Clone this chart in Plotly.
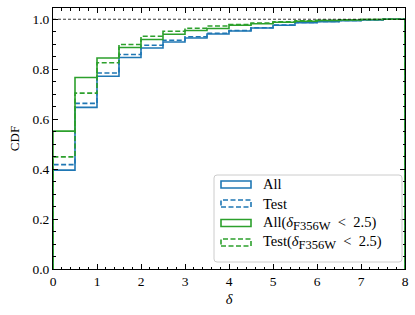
import plotly.graph_objects as go

# ---- data ----
bin_edges = [0.0, 0.5, 1.0, 1.5, 2.0, 2.5, 3.0, 3.5, 4.0, 4.5, 5.0, 5.5, 6.0, 6.5, 7.0, 7.5, 8.0]
cdf_all = [0.396, 0.647, 0.772, 0.847, 0.885, 0.909, 0.925, 0.941, 0.953, 0.965, 0.976, 0.986, 0.990, 0.994, 0.997, 1.0]
cdf_test = [0.418, 0.663, 0.785, 0.859, 0.896, 0.916, 0.930, 0.944, 0.955, 0.966, 0.977, 0.987, 0.991, 0.995, 0.998, 1.0]
cdf_all_sub = [0.552, 0.767, 0.845, 0.887, 0.919, 0.940, 0.955, 0.963, 0.976, 0.982, 0.988, 0.992, 0.995, 0.997, 0.999, 1.0]
cdf_test_sub = [0.449, 0.704, 0.826, 0.899, 0.932, 0.952, 0.964, 0.973, 0.979, 0.985, 0.990, 0.994, 0.996, 0.998, 0.999, 1.0]
SUB = '<sub><span style="font-size:12.5px">F356W</span></sub>'
series_names = ["All", "Test",
                "All(<i>δ</i>" + SUB + "&nbsp;&nbsp;&lt;&nbsp;&nbsp;2.5)",
                "Test(<i>δ</i>" + SUB + "&nbsp;&nbsp;&lt;&nbsp;&nbsp;2.5)"]
x_ticks = [0, 1, 2, 3, 4, 5, 6, 7, 8]
y_ticks = [0.0, 0.2, 0.4, 0.6, 0.8, 1.0]

BLUE = "#1f77b4"
GREEN = "#2ca02c"
FONT = "Liberation Serif"
FS = 13.5
LFS = 14.5

series = [
    (cdf_all, BLUE, "solid"),
    (cdf_test, BLUE, "5px,2.5px"),
    (cdf_all_sub, GREEN, "solid"),
    (cdf_test_sub, GREEN, "5px,2.5px"),
]

fig = go.Figure()
for vals, col, dash in series:
    xs = [bin_edges[0]] + bin_edges[:-1] + [bin_edges[-1], bin_edges[-1]]
    ys = [0.0] + vals + [vals[-1], 0.0]
    fig.add_trace(go.Scatter(x=xs, y=ys, mode="lines", line_shape="hv",
                             line=dict(color=col, width=1.6, dash=dash),
                             showlegend=False, hoverinfo="skip", cliponaxis=True))

# horizontal reference at 1
fig.add_shape(type="line", xref="x", yref="y", x0=0, x1=8, y0=1, y1=1,
              line=dict(color="black", width=0.8, dash="3px,2px"))

# ---- manual legend (matplotlib style) ----
L, R, T, B = 53, 405, 8, 269
def px(xp):
    return (xp - L) / (R - L)
def py(yp):
    return (B - yp) / (B - T)

bx0, bx1, by0, by1 = 214, 402, 175, 262
r = 3
path = (f"M{px(bx0+r)},{py(by0)} L{px(bx1-r)},{py(by0)} Q{px(bx1)},{py(by0)} {px(bx1)},{py(by0+r)} "
        f"L{px(bx1)},{py(by1-r)} Q{px(bx1)},{py(by1)} {px(bx1-r)},{py(by1)} "
        f"L{px(bx0+r)},{py(by1)} Q{px(bx0)},{py(by1)} {px(bx0)},{py(by1-r)} "
        f"L{px(bx0)},{py(by0+r)} Q{px(bx0)},{py(by0)} {px(bx0+r)},{py(by0)} Z")
fig.add_shape(type="path", xref="paper", yref="paper", path=path,
              line=dict(color="#cccccc", width=1), fillcolor="rgba(255,255,255,0.8)",
              layer="above")

centers = [184.5, 203.5, 223.0, 242.5]
for (vals, col, dash), name, cy in zip(series, series_names, centers):
    fig.add_shape(type="rect", xref="paper", yref="paper",
                  x0=px(221), x1=px(251), y0=py(cy + 3.5), y1=py(cy - 3.5),
                  line=dict(color=col, width=1.6, dash=dash), fillcolor="rgba(0,0,0,0)",
                  layer="above")
    fig.add_annotation(xref="paper", yref="paper", x=px(261), y=py(cy),
                       xanchor="left", yanchor="middle", showarrow=False,
                       text=name, font=dict(family=FONT, size=LFS, color="black"))

axis_common = dict(showline=True, linecolor="black", linewidth=1, mirror="ticks",
                   ticks="inside", ticklen=5, tickwidth=1, tickcolor="black",
                   showgrid=False, zeroline=False, automargin=False,
                   tickfont=dict(family=FONT, size=FS, color="black"))

fig.update_xaxes(range=[0, 8], tickvals=x_ticks, ticktext=[str(v) for v in x_ticks],
                 minor=dict(dtick=0.2, tick0=0, ticks="inside", ticklen=2.5,
                            tickcolor="black", tickwidth=0.8),
                 title=dict(text="<i>δ</i>", font=dict(family=FONT, size=FS + 1, color="black"),
                            standoff=5),
                 **axis_common)
fig.update_yaxes(range=[0, 1.045], tickvals=y_ticks, ticktext=[f"{v:.1f}" for v in y_ticks],
                 minor=dict(dtick=0.05, tick0=0, ticks="inside", ticklen=2.5,
                            tickcolor="black", tickwidth=0.8),
                 title=dict(text="CDF", font=dict(family=FONT, size=13, color="black"),
                            standoff=9),
                 **axis_common)

fig.update_layout(width=415, height=315, margin=dict(l=L, r=415 - R, t=T, b=315 - B),
                  plot_bgcolor="white", paper_bgcolor="white",
                  font=dict(family=FONT, size=FS, color="black"))

fig.write_html("out.html", config={"displayModeBar": False},
               post_script="document.body.style.margin='0';")
